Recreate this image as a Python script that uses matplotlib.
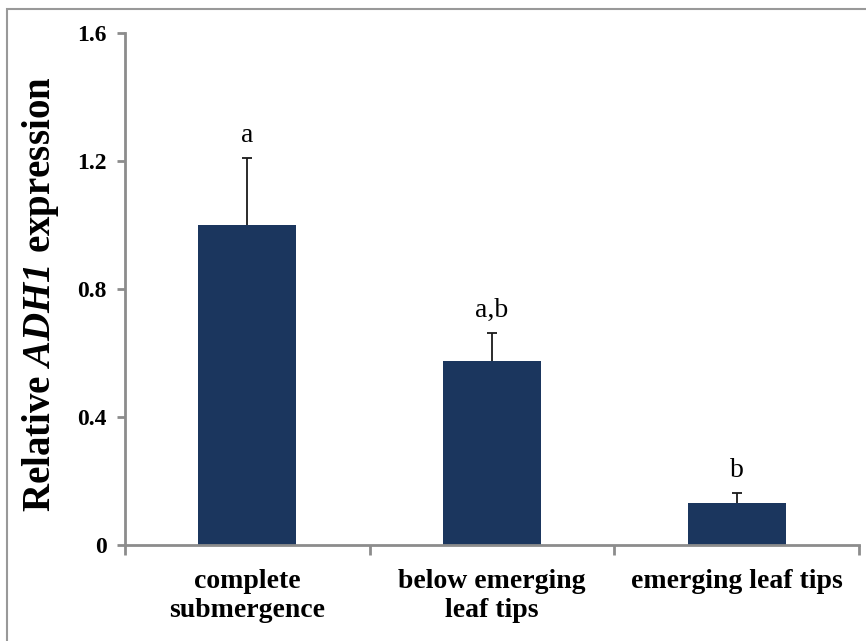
import numpy as np
import matplotlib
matplotlib.use("Agg")
import matplotlib.pyplot as plt
from matplotlib.patches import Rectangle

categories = ["complete\nsubmergence", "below emerging\nleaf tips", "emerging leaf tips"]
expression = [1.0, 0.575, 0.131]
errors = [0.21, 0.088, 0.032]
letters = ["a", "a,b", "b"]
yticks = [0, 0.4, 0.8, 1.2, 1.6]
yticklabels = ["0", "0.4", "0.8", "1.2", "1.6"]

plt.rcParams["font.family"] = ["Liberation Serif", "DejaVu Serif"]
plt.rcParams["mathtext.fontset"] = "custom"
plt.rcParams["mathtext.rm"] = "Liberation Serif"
plt.rcParams["mathtext.it"] = "Liberation Serif:italic"
plt.rcParams["mathtext.bf"] = "Liberation Serif:bold"
plt.rcParams["mathtext.bfit"] = "Liberation Serif:italic:bold"

barcol = "#1b365e"
axcol = "#8c8c8c"

fig = plt.figure(figsize=(8.66, 6.41), dpi=100)
ax = fig.add_axes([125/866, 1-545/641, 734/866, 512/641])

x = np.arange(len(categories))
ax.bar(x, expression, width=0.40, color=barcol, zorder=2)
eb = ax.errorbar(x, expression, yerr=[np.zeros(len(errors)), errors], fmt="none",
                 ecolor="#1a1a1a", elinewidth=1.3, capsize=3.5, capthick=1.3, zorder=3)
# hide the lower caps that sit on the bar tops
eb[1][0].set_visible(False)
for xi, v, e, t in zip(x, expression, errors, letters):
    ax.text(xi, v + e + 0.03, t, ha="center", va="bottom", fontsize=20)

ax.set_xlim(-0.5, 2.5)
ax.set_ylim(0, 1.6)
ax.set_yticks(yticks)
ax.set_yticklabels(yticklabels, fontsize=17, fontweight="bold")
ax.set_xticks([-0.5, 0.5, 1.5, 2.5])
ax.set_xticklabels([])
ax.set_xticks(x, minor=True)
ax.set_xticklabels(categories, minor=True, fontsize=20, fontweight="bold", linespacing=1.25)
ax.tick_params(axis="x", which="minor", length=0, pad=17)
ax.tick_params(axis="x", which="major", length=7, width=2, color=axcol, direction="out")
ax.tick_params(axis="y", length=6, width=2, color=axcol, direction="out", pad=7)
for s in ["top", "right"]:
    ax.spines[s].set_visible(False)
for s in ["left", "bottom"]:
    ax.spines[s].set_color(axcol)
    ax.spines[s].set_linewidth(2)

ax.set_ylabel(r"Relative $\mathbfit{ADH1}$ expression", fontsize=28, fontweight="bold")
ax.yaxis.set_label_coords(-0.087, 0.49)

fig.patches.append(Rectangle((7/866, -0.1), 1.0, 1.1 - 9/641, transform=fig.transFigure,
                             fill=False, edgecolor="#999999", linewidth=1.5))

fig.savefig("out.png", dpi=100)
